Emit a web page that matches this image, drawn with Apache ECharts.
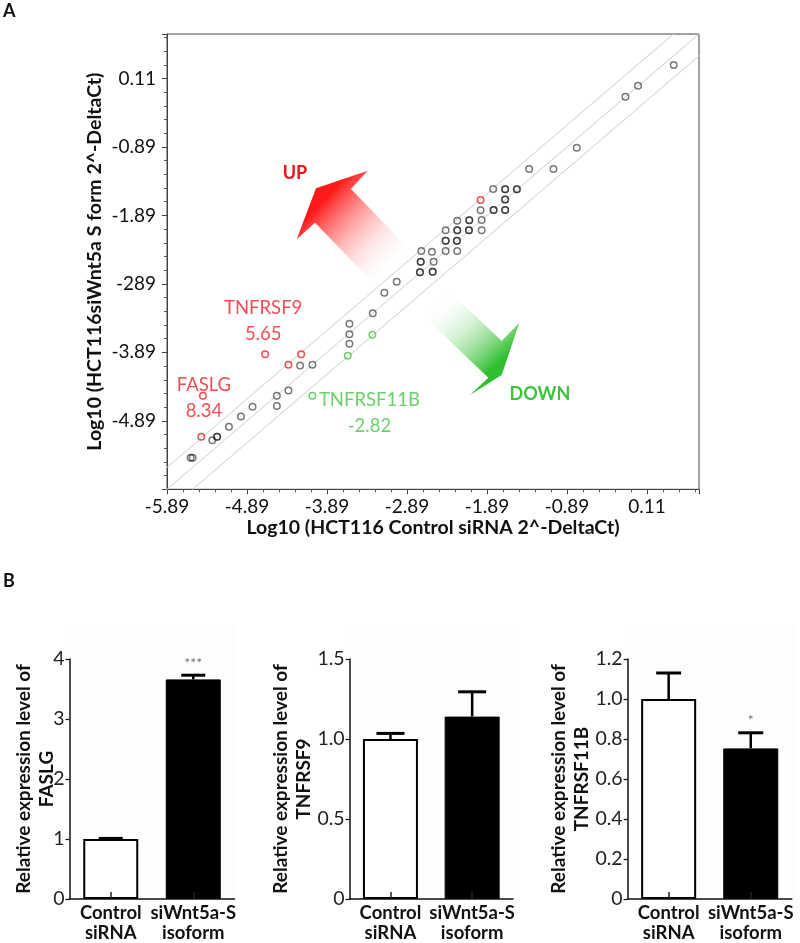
<!DOCTYPE html>
<html><head><meta charset="utf-8">
<script src="https://cdn.jsdelivr.net/npm/echarts@6/dist/echarts.min.js"></script>
<style>html,body{margin:0;padding:0;background:#fff}#c{width:800px;height:943px}</style>
</head><body><div id="c"></div>
<script>
// ---------- Panel A data ----------
const tickValues = [-5.89, -4.89, -3.89, -2.89, -1.89, -0.89, 0.11];
const xTickLabels = ['-5.89', '-4.89', '-3.89', '-2.89', '-1.89', '-0.89', '0.11'];
const yTickLabels = ['', '-4.89', '-3.89', '-289', '-1.89', '-0.89', '0.11'];
const axisMin = -5.89, axisMax = 0.76;
const diagOffsets = [0.32, 0, -0.32];

const grayX = [-5.595, -5.570, -5.324, -5.266, -5.262, -5.116, -4.966, -4.821, -4.517, -4.517, -4.372, -4.226, -4.072,
  -3.610, -3.610, -3.610, -3.318, -3.173, -3.019,
  -2.728, -2.728, -2.569, -2.569, -2.719, -2.719, -2.557, -2.711, -2.578, -2.407, -2.262,
  -2.407, -2.407, -2.266, -2.266, -2.407, -2.262, -2.262, -2.116, -2.116, -1.957,
  -2.262, -2.112, -2.112, -1.957, -1.970, -1.808, -1.808, -1.663, -1.663, -1.663, -1.663,
  -1.813, -1.663, -1.663, -1.517, -1.517, -1.363, -1.059, -0.768, -0.160, -0.002, 0.444];
const grayY = [-5.431, -5.431, -5.172, -5.124, -5.124, -4.978, -4.826, -4.685, -4.525, -4.675, -4.446, -4.080, -4.071,
  -3.472, -3.627, -3.764, -3.320, -3.019, -2.858,
  -2.720, -2.720, -2.712, -2.712, -2.565, -2.565, -2.565, -2.409, -2.419, -2.409, -2.409,
  -2.258, -2.258, -2.258, -2.258, -2.106, -2.106, -2.106, -2.106, -2.106, -2.106,
  -1.966, -1.960, -1.960, -1.956, -1.814, -1.810, -1.810, -1.810, -1.810, -1.659, -1.659,
  -1.503, -1.507, -1.507, -1.507, -1.507, -1.210, -1.210, -0.903, -0.158, 0.003, 0.306];

const redX = [-5.462, -5.441, -4.663, -4.372, -4.213, -1.970];
const redY = [-5.124, -4.525, -3.919, -4.071, -3.919, -1.663];
const redLabels = ['', 'FASLG\n8.34', 'TNFRSF9\n5.65', '', '', ''];

const greenX = [-4.072, -3.630, -3.323];
const greenY = [-4.525, -3.940, -3.633];
const greenLabels = ['TNFRSF11B\n-2.82', '', ''];

// ---------- Panel B data ----------
const barCategories = ['Control\nsiRNA', 'siWnt5a-S\nisoform'];
const faslgMean = [1.0, 3.66], faslgErr = [0.01, 0.07], faslgSig = ['', '***'];
const tnfrsf9Mean = [1.0, 1.14], tnfrsf9Err = [0.035, 0.155], tnfrsf9Sig = ['', ''];
const tnfrsf11bMean = [1.0, 0.753], tnfrsf11bErr = [0.13, 0.078], tnfrsf11bSig = ['', '*'];
const barTitles = ['Relative expression level of\nFASLG', 'Relative expression level of\nTNFRSF9', 'Relative expression level of\nTNFRSF11B'];
const barMax = [4, 1.5, 1.2], barInterval = [1, 0.5, 0.2];

const FONT = 'Lato';
const RED = '#ea2228', GREEN = '#45c445';

function tickFmt(labels) {
  return function (v) {
    for (let i = 0; i < tickValues.length; i++) if (Math.abs(v - tickValues[i]) < 1e-6) return labels[i];
    return '';
  };
}

const chart = echarts.init(document.getElementById('c'));

const scatterAxisCommon = {
  type: 'value', min: axisMin, max: axisMax, interval: 1,
  axisLine: { show: true, onZero: false, lineStyle: { color: '#444', width: 1 } },
  axisTick: { show: true, length: 5, lineStyle: { color: '#444' } },
  minorTick: { show: true, splitNumber: 5, length: 3, lineStyle: { color: '#555' } },
  splitLine: { show: false },
  nameLocation: 'middle', nameMoveOverlap: false,
  nameTextStyle: { fontFamily: FONT, fontWeight: 'bold', fontSize: 19.5, color: '#111' }
};

const barGrids = [
  { left: 69.5, width: 165, top: 659, bottom: 43 },
  { left: 349.6, width: 163.4, top: 659, bottom: 43 },
  { left: 627.6, width: 164.2, top: 659, bottom: 43 }
];
const barMeans = [faslgMean, tnfrsf9Mean, tnfrsf11bMean];
const barErrs = [faslgErr, tnfrsf9Err, tnfrsf11bErr];
const barSigs = [faslgSig, tnfrsf9Sig, tnfrsf11bSig];
const capHalf = [12, 14, 12.5];
const nameGaps = [11, 34, 34];

const grid = [{ left: 167, top: 34, right: 101, bottom: 453.7, show: true, borderColor: '#444', borderWidth: 1 }].concat(barGrids);

const xAxis = [Object.assign({}, scatterAxisCommon, {
  gridIndex: 0, position: 'bottom',
  axisLabel: { formatter: tickFmt(xTickLabels), fontFamily: FONT, fontSize: 19, color: '#111', margin: 8 },
  name: 'Log10 (HCT116 Control siRNA 2^-DeltaCt)', nameGap: 28
})];
const yAxis = [Object.assign({}, scatterAxisCommon, {
  gridIndex: 0, position: 'left',
  axisLabel: { formatter: tickFmt(yTickLabels), fontFamily: FONT, fontSize: 19, color: '#111', margin: 11 },
  name: 'Log10 (HCT116siWnt5a S form 2^-DeltaCt)', nameGap: 62, nameRotate: 90
})];

barGrids.forEach((g, i) => {
  xAxis.push({
    type: 'category', gridIndex: i + 1, data: barCategories, z: 5,
    axisLine: { show: true, lineStyle: { color: '#111', width: 1.5 } },
    axisTick: { show: true, inside: true, alignWithLabel: true, length: 7, lineStyle: { color: '#222', width: 1.5 } },
    axisLabel: { interval: 0, fontFamily: FONT, fontWeight: 'bold', fontSize: 18.5, lineHeight: 20, color: '#111', margin: 4 }
  });
  yAxis.push({
    type: 'value', gridIndex: i + 1, min: 0, max: barMax[i], interval: barInterval[i],
    axisLine: { show: true, lineStyle: { color: '#111', width: 1.5 } },
    axisTick: { show: true, length: 4, lineStyle: { color: '#111', width: 1.2 } },
    splitLine: { show: false },
    axisLabel: {
      fontFamily: FONT, fontSize: 19.5, color: '#222', margin: 5,
      formatter: v => (v === 0 ? '0' : (barInterval[i] < 1 ? v.toFixed(1) : String(v)))
    },
    name: barTitles[i], nameLocation: 'middle', nameRotate: 90, nameGap: nameGaps[i], nameMoveOverlap: false,
    nameTextStyle: { fontFamily: FONT, fontWeight: 'bold', fontSize: 19, lineHeight: 23, color: '#111' }
  });
});

const series = [];
// diagonal reference lines
diagOffsets.forEach(off => {
  series.push({
    type: 'line', xAxisIndex: 0, yAxisIndex: 0, symbol: 'none', silent: true, clip: true, z: 1,
    lineStyle: { color: '#cdcdcd', width: 1 },
    data: [[axisMin - 1, axisMin - 1 + off], [axisMax + 1, axisMax + 1 + off]]
  });
});
const ptStyle = c => ({ color: 'rgba(0,0,0,0)', borderColor: c, borderWidth: 1.5 });
series.push({
  type: 'scatter', xAxisIndex: 0, yAxisIndex: 0, symbol: 'circle', symbolSize: 6.5, z: 3,
  itemStyle: ptStyle('rgba(20,20,20,0.72)'),
  data: grayX.map((x, i) => [x, grayY[i]])
});
const labelOpts = {
  'FASLG\n8.34': { position: 'inside', offset: [1, 2] },
  'TNFRSF9\n5.65': { position: 'top', distance: 3, offset: [-2, 0] },
  'TNFRSF11B\n-2.82': { position: 'inside', offset: [57, 17] }
};
function labeled(xs, ys, labels, color) {
  return xs.map((x, i) => {
    const d = { value: [x, ys[i]] };
    if (labels[i]) {
      d.label = Object.assign({
        show: true, formatter: labels[i], color: color, fontFamily: FONT, fontSize: 18.5, lineHeight: 26, align: 'center'
      }, labelOpts[labels[i]]);
    }
    return d;
  });
}
series.push({
  type: 'scatter', xAxisIndex: 0, yAxisIndex: 0, symbol: 'circle', symbolSize: 6.5, z: 4,
  itemStyle: ptStyle(RED), data: labeled(redX, redY, redLabels, RED)
});
series.push({
  type: 'scatter', xAxisIndex: 0, yAxisIndex: 0, symbol: 'circle', symbolSize: 6.5, z: 4,
  itemStyle: ptStyle(GREEN), data: labeled(greenX, greenY, greenLabels, GREEN)
});

// bar charts
barGrids.forEach((g, k) => {
  const m = barMeans[k], e = barErrs[k], s = barSigs[k];
  series.push({
    type: 'bar', xAxisIndex: k + 1, yAxisIndex: k + 1, barWidth: 55, z: 2,
    data: [
      { value: m[0], itemStyle: { color: '#fff', borderColor: '#000', borderWidth: 2 } },
      { value: m[1], itemStyle: { color: '#000', borderColor: '#000', borderWidth: 1 } }
    ]
  });
  series.push({
    type: 'custom', xAxisIndex: k + 1, yAxisIndex: k + 1, z: 6,
    data: m.map((v, i) => [i, v, e[i]]),
    renderItem: function (params, api) {
      const base = api.coord([api.value(0), api.value(1)]);
      const top = api.coord([api.value(0), api.value(1) + api.value(2)]);
      const h = capHalf[k];
      const children = [
        { type: 'line', shape: { x1: base[0], y1: base[1], x2: top[0], y2: top[1] }, style: { stroke: '#000', lineWidth: 2.5 } },
        { type: 'line', shape: { x1: top[0] - h, y1: top[1], x2: top[0] + h, y2: top[1] }, style: { stroke: '#000', lineWidth: 3 } }
      ];
      const sig = s[params.dataIndex];
      if (sig) {
        children.push({ type: 'text', x: top[0], y: top[1] - 5, style: { text: sig, fill: '#777', fontSize: 14, fontFamily: FONT, align: 'center', verticalAlign: 'bottom' } });
      }
      return { type: 'group', children: children };
    }
  });
});

chart.setOption({
  animation: false,
  textStyle: { fontFamily: FONT },
  grid: grid, xAxis: xAxis, yAxis: yAxis, series: series,
  graphic: [
    { type: 'text', x: 3, y: 2, style: { text: 'A', fontSize: 18, fontWeight: 'bold', fontFamily: FONT, fill: '#111' } },
    { type: 'text', x: 3, y: 572, style: { text: 'B', fontSize: 18, fontWeight: 'bold', fontFamily: FONT, fill: '#111' } },
    { type: 'rect', z: -1, shape: { x: 65, y: 625, width: 172, height: 275 }, style: { fill: '#fdfdfd' } },
    { type: 'rect', z: -1, shape: { x: 346, y: 625, width: 172, height: 275 }, style: { fill: '#fdfdfd' } },
    { type: 'rect', z: -1, shape: { x: 625, y: 625, width: 172, height: 275 }, style: { fill: '#fdfdfd' } },
    {
      type: 'polygon', z: 2,
      shape: { points: [[413.5, 253.7], [351, 189], [367.7, 170.7], [316, 188.3], [296.7, 239.3], [315, 222.7], [377.5, 287.4]] },
      style: { fill: { type: 'linear', global: true, x: 322, y: 202, x2: 395, y2: 270,
        colorStops: [{ offset: 0, color: '#ff1a1a' }, { offset: 1, color: 'rgba(255,255,255,0)' }] } }
    },
    {
      type: 'polygon', z: 2,
      shape: { points: [[436.7, 279], [501.7, 341], [519.3, 322.7], [501.7, 375], [470, 395], [488.3, 377.7], [423.3, 315.7]] },
      style: { fill: { type: 'linear', global: true, x: 495, y: 366, x2: 436, y2: 301,
        colorStops: [{ offset: 0, color: '#2fbf2f' }, { offset: 1, color: 'rgba(255,255,255,0)' }] } }
    },
    { type: 'text', x: 295, y: 173, style: { text: 'UP', fontSize: 18, fontWeight: 'bold', fontFamily: FONT, fill: '#e8141c', align: 'center', verticalAlign: 'middle' } },
    { type: 'text', x: 540, y: 394, style: { text: 'DOWN', fontSize: 18, fontWeight: 'bold', fontFamily: FONT, fill: '#3cc43c', align: 'center', verticalAlign: 'middle' } }
  ]
});
</script>
</body></html>
